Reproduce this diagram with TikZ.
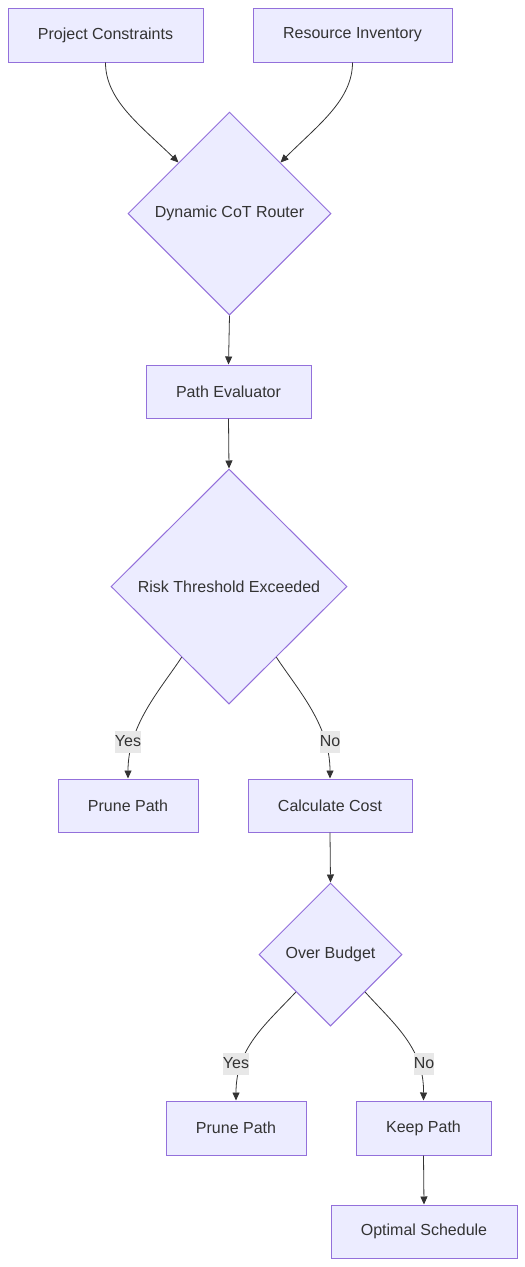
\documentclass[tikz,border=0pt]{standalone}
\usepackage{fontspec}
\setmainfont{Liberation Sans}
\usetikzlibrary{shapes.geometric,arrows.meta,calc}
\definecolor{nodefill}{HTML}{ECECFF}
\definecolor{nodestroke}{HTML}{9370DB}
\definecolor{linecol}{HTML}{333333}
\definecolor{labelbg}{HTML}{E8E8E8}
\tikzset{
  base/.style={fill=nodefill, draw=nodestroke, line width=1pt, text=linecol, font=\fontsize{16}{19}\selectfont, inner sep=0pt},
  box/.style={base, rectangle, minimum height=54pt},
  decision/.style={base, diamond, aspect=1},
  conn/.style={draw=linecol, line width=0.8pt, -{Triangle[length=8pt,width=7pt]}},
  elabel/.style={fill=labelbg, text=linecol, font=\fontsize{16}{19}\selectfont, inner xsep=0pt, inner ysep=0pt, minimum height=22pt}
}
\begin{document}
\begin{tikzpicture}[x=1pt,y=-1pt]
\useasboundingbox[fill=white] (0,0) rectangle (525,1267);
\node[box, minimum width=195pt] (pc) at (105.5,35) {Project Constraints};
\node[box, minimum width=199pt] (ri) at (352.5,35) {Resource Inventory};
\node[decision, minimum width=203pt, minimum height=203pt] (router) at (229.5,213.5) {Dynamic CoT Router};
\node[box, minimum width=165pt, minimum height=53pt] (pe) at (228.5,391.5) {Path Evaluator};
\node[decision, minimum width=236pt, minimum height=235pt] (risk) at (229,586.5) {Risk Threshold Exceeded};
\node[box, minimum width=140pt, minimum height=53pt] (prune1) at (128,805.5) {Prune Path};
\node[box, minimum width=164pt, minimum height=53pt] (calc) at (330,805.5) {Calculate Cost};
\node[decision, minimum width=143pt, minimum height=143pt] (over) at (330.5,954.5) {Over Budget};
\node[box, minimum width=140pt] (prune2) at (236,1128) {Prune Path};
\node[box, minimum width=135pt] (keep) at (423.5,1128) {Keep Path};
\node[box, minimum width=186pt, minimum height=53pt] (opt) at (424,1231.5) {Optimal Schedule};

\draw[conn] (pc.south) .. controls (105.5,100) and (140,125) .. (router.north west);
\draw[conn] (ri.south) .. controls (352.5,100) and (318,125) .. (router.north east);
\draw[conn] (router.south) -- (pe.north);
\draw[conn] (pe.south) -- (risk.north);

\coordinate (rl) at ($(risk.west)!0.6!(risk.south)$);
\coordinate (rr) at ($(risk.east)!0.6!(risk.south)$);
\draw[conn] (rl) .. controls (160,690) and (128,725) .. (prune1.north);
\draw[conn] (rr) .. controls (298,690) and (330,725) .. (calc.north);
\node[elabel] (lyes1) at (128,741.5) {Yes};
\node[elabel] (lno1) at (330,741.5) {No};

\draw[conn] (calc.south) -- (over.north);

\coordinate (ol) at ($(over.west)!0.52!(over.south)$);
\coordinate (or) at ($(over.east)!0.52!(over.south)$);
\draw[conn] (ol) .. controls (265,1025) and (236,1048) .. (prune2.north);
\draw[conn] (or) .. controls (395,1025) and (424,1048) .. (keep.north);
\node[elabel] (lyes2) at (236,1063.5) {Yes};
\node[elabel] (lno2) at (424,1063.5) {No};

\draw[conn] (keep.south) -- (opt.north);
\end{tikzpicture}
\end{document}
